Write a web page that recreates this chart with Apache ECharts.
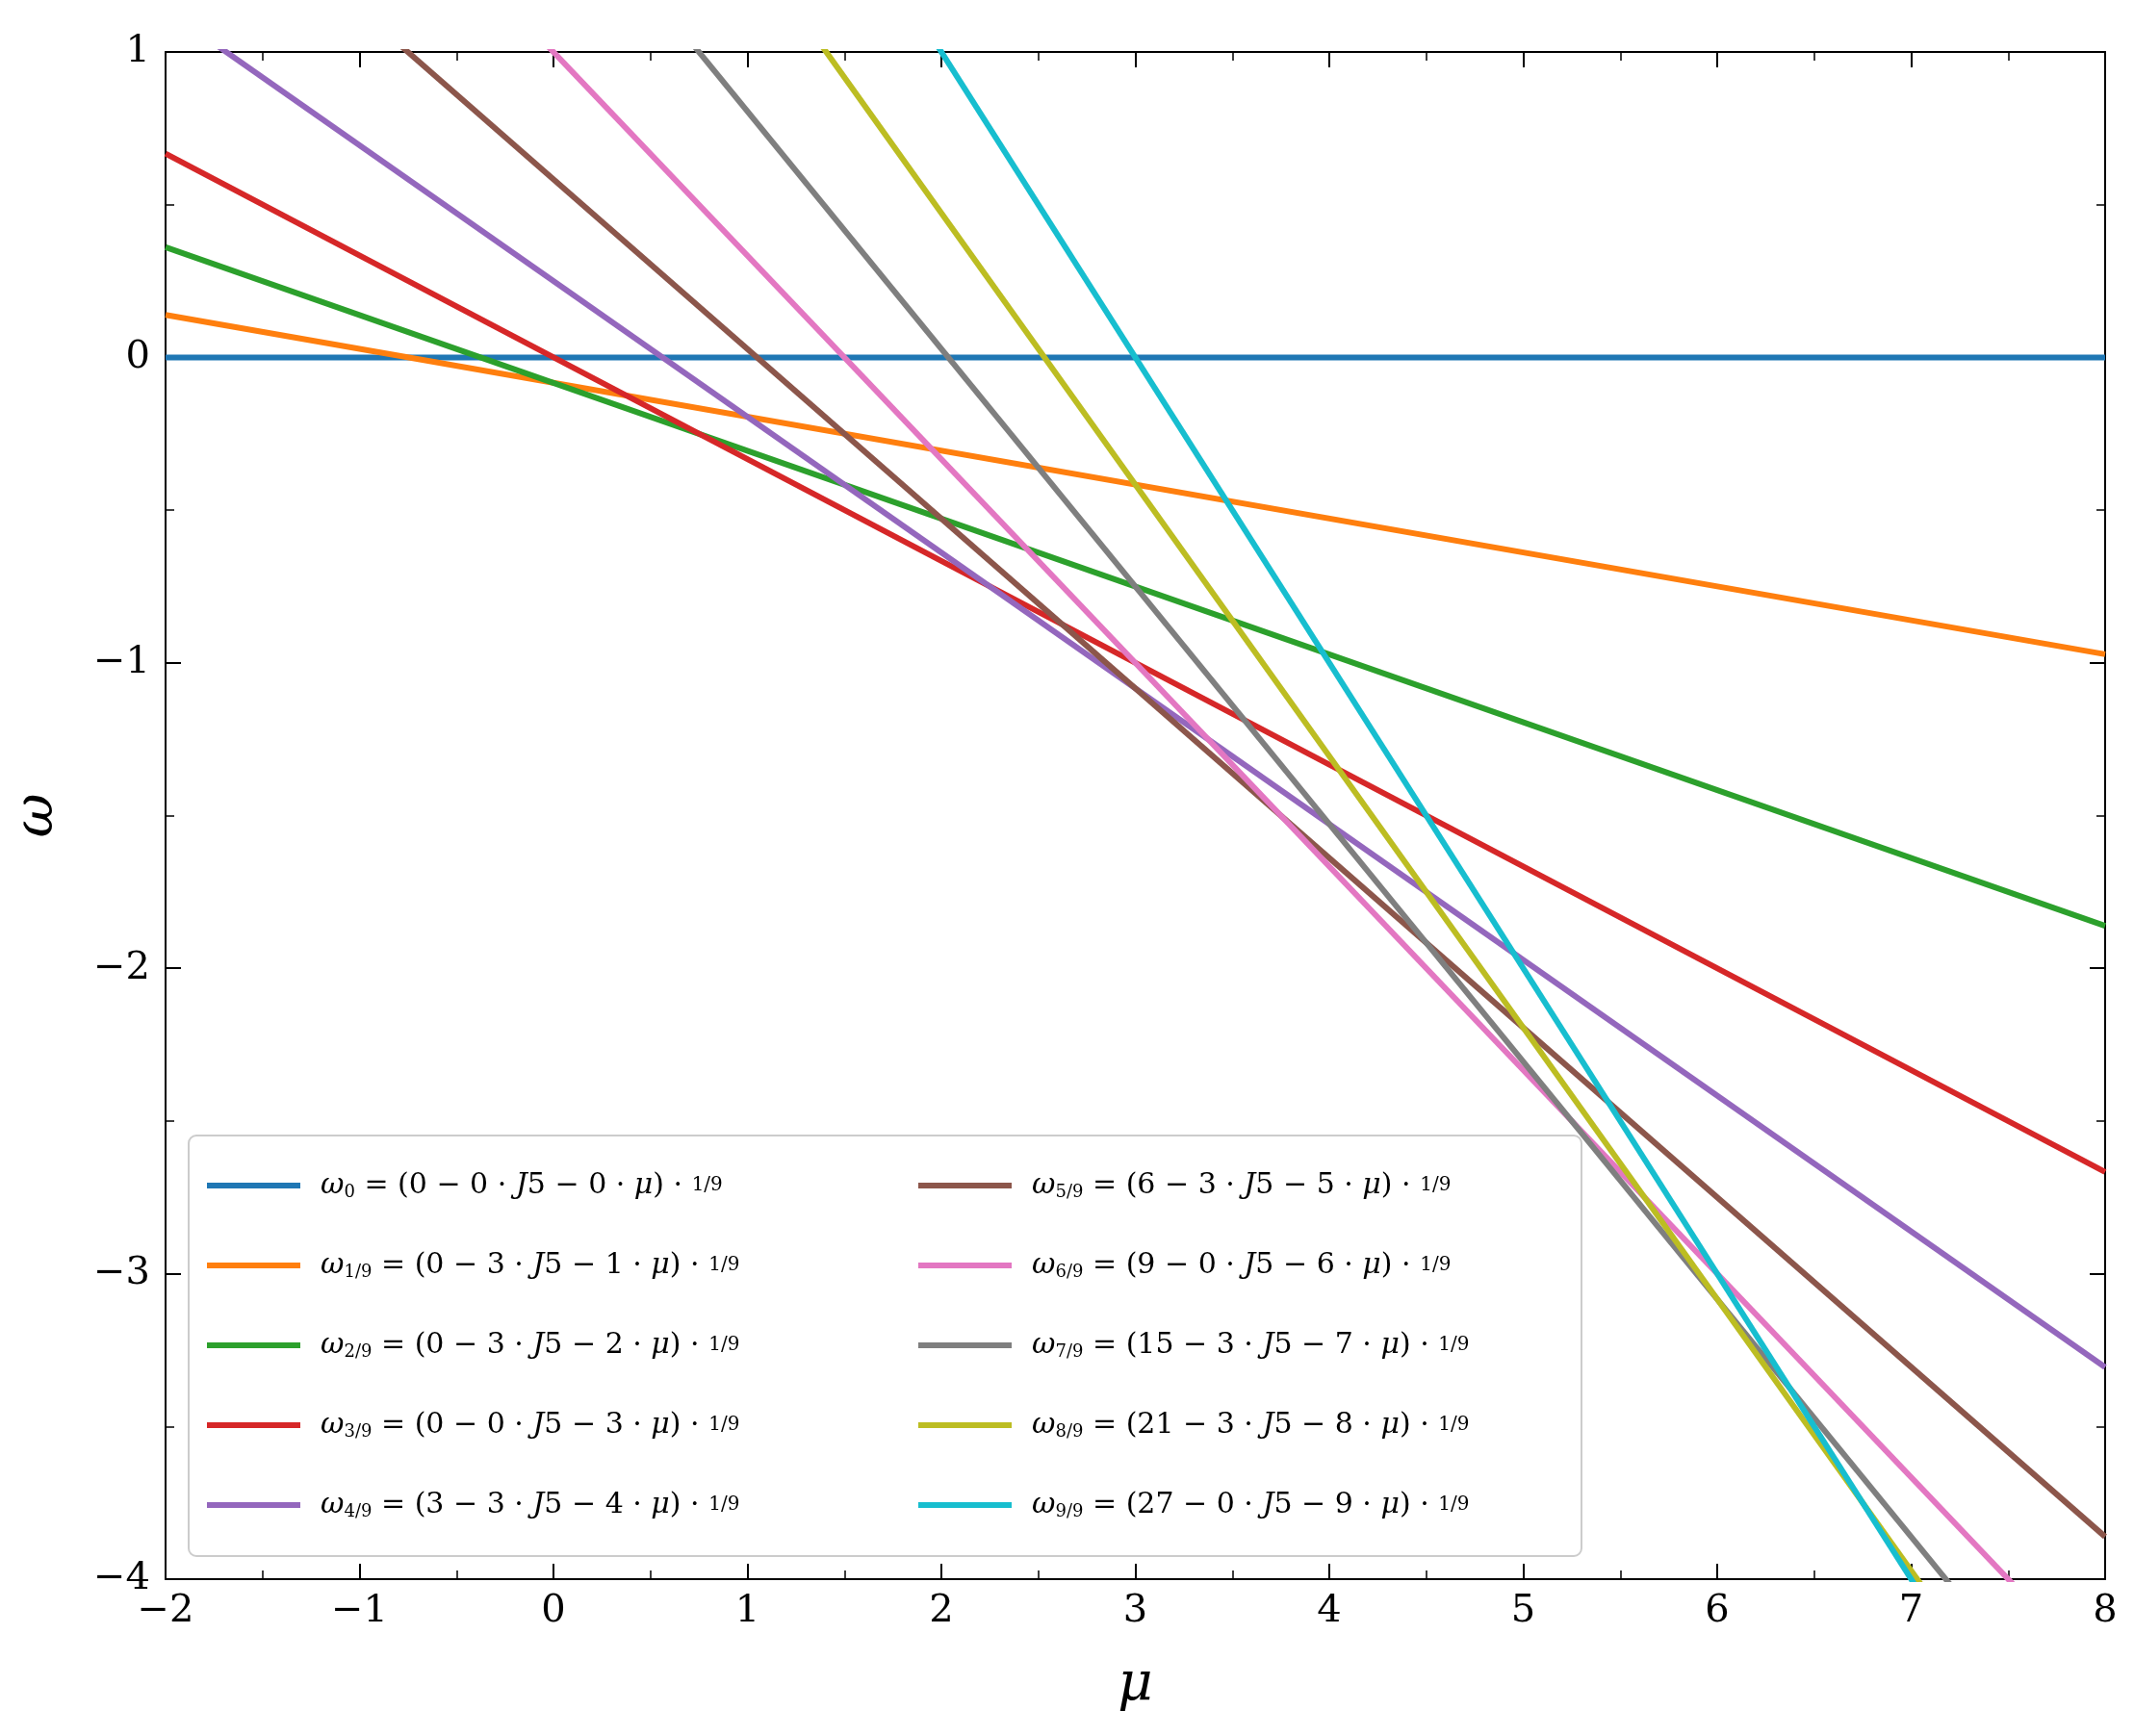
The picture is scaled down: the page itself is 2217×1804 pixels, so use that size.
<!DOCTYPE html>
<html><head><meta charset="utf-8">
<script src="https://cdn.jsdelivr.net/npm/echarts@6/dist/echarts.min.js"></script>
<style>html,body{margin:0;background:#fff}#c{width:2217px;height:1804px}</style>
</head><body><div id="c"></div>
<script>
// mu range ends, omega read at each end (clipped by axis)
var muEnds = [-2, 8];
var w0 = [0, 0];
var w1 = [0.139, -0.972];
var w2 = [0.361, -1.861];
var w3 = [0.667, -2.667];
var w4 = [1.139, -3.306];
var w5 = [1.694, -3.861];
var w6 = [2.333, -4.333];
var w7 = [3.139, -4.639];
var w8 = [4.028, -4.861];
var w9 = [5.0, -5.0];
var allW = [w0, w1, w2, w3, w4, w5, w6, w7, w8, w9];
var subs = ['0', '1/9', '2/9', '3/9', '4/9', '5/9', '6/9', '7/9', '8/9', '9/9'];
var formulas = [
    ['0', '0', '0'], ['0', '3', '1'], ['0', '3', '2'], ['0', '0', '3'], ['3', '3', '4'],
    ['6', '3', '5'], ['9', '0', '6'], ['15', '3', '7'], ['21', '3', '8'], ['27', '0', '9']
];
var colors = ['#1f77b4', '#ff7f0e', '#2ca02c', '#d62728', '#9467bd', '#8c564b', '#e377c2', '#7f7f7f', '#bcbd22', '#17becf'];

var names = subs.map(function(s, i) { return 'w' + i; });
var chart = echarts.init(document.getElementById('c'));
var serif = 'DejaVu Serif';
var minus = function(v) { return String(v).replace('-', '−'); };

function legendLabel(name) {
    var i = +name.slice(1);
    var f = formulas[i];
    return '{i|ω}{s|' + subs[i] + '}{t| = (' + f[0] + ' − ' + f[1] + ' · }{i|J}{t|5 − ' + f[2] + ' · }{i|μ}{t|) · }{s2|1/9}';
}
var rich = {
    i: {fontFamily: serif, fontStyle: 'italic', fontSize: 30, color: '#000'},
    t: {fontFamily: serif, fontSize: 30, color: '#000'},
    s: {fontFamily: serif, fontSize: 18, color: '#000', verticalAlign: 'bottom', padding: [14, 0, 0, 0]},
    s2: {fontFamily: serif, fontSize: 20, color: '#000'}
};
function mkLegend(data, left) {
    return {
        data: data, orient: 'vertical', left: left, top: 1212, z: 100,
        itemWidth: 97, itemHeight: 6, itemGap: 52,
        icon: 'rect', formatter: legendLabel,
        textStyle: {rich: rich, fontSize: 30, fontFamily: serif, padding: [0, 0, 0, 16]}
    };
}
var axisCommon = {
    type: 'value', axisLine: {show: true, onZero: false, lineStyle: {color: '#000', width: 2}},
    axisTick: {show: true, inside: true, length: 16, lineStyle: {width: 2}},
    minorTick: {show: true, splitNumber: 2, length: 9, lineStyle: {color: '#000', width: 1.5}},
    splitLine: {show: false}, interval: 1
};
var labelStyle = {fontFamily: serif, fontSize: 40, color: '#000', formatter: minus};

chart.setOption({
    animation: false,
    backgroundColor: '#fff',
    color: colors,
    grid: {left: 172, right: 30, top: 54, bottom: 163},
    graphic: [{
        type: 'rect', left: 195, top: 1179,
        shape: {width: 1447, height: 437, r: 8},
        style: {fill: 'rgba(255,255,255,0.8)', stroke: '#ccc', lineWidth: 2},
        z: 90
    }],
    legend: [mkLegend(names.slice(0, 5), 210), mkLegend(names.slice(5), 949)],
    xAxis: [
        Object.assign({}, axisCommon, {min: -2, max: 8, position: 'bottom', name: 'μ', nameLocation: 'middle', nameGap: 82,
            nameTextStyle: {fontFamily: serif, fontStyle: 'italic', fontSize: 56, color: '#000'},
            axisLabel: Object.assign({margin: 14}, labelStyle)}),
        Object.assign({}, axisCommon, {min: -2, max: 8, position: 'top', axisLabel: {show: false}})
    ],
    yAxis: [
        Object.assign({}, axisCommon, {min: -4, max: 1, position: 'left', name: 'ω', nameLocation: 'middle', nameGap: 105, nameRotate: 90,
            nameTextStyle: {fontFamily: serif, fontStyle: 'italic', fontSize: 56, color: '#000'},
            axisLabel: Object.assign({margin: 16}, labelStyle)}),
        Object.assign({}, axisCommon, {min: -4, max: 1, position: 'right', axisLabel: {show: false}})
    ],
    series: allW.map(function(w, i) {
        return {
            name: names[i], type: 'line', showSymbol: false, clip: true,
            lineStyle: {width: 6, color: colors[i]}, itemStyle: {color: colors[i]},
            data: muEnds.map(function(m, j) { return [m, w[j]]; })
        };
    })
});
</script></body></html>
